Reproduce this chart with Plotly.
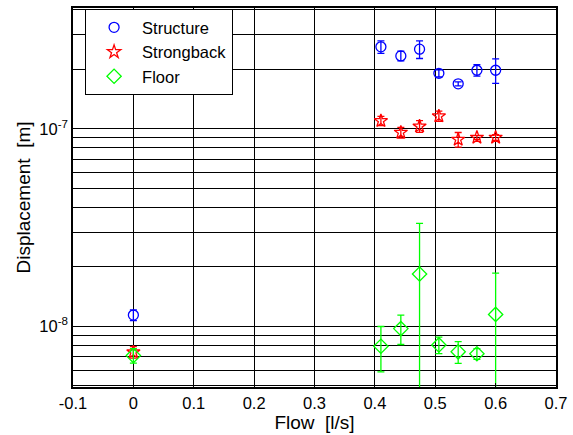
import plotly.graph_objects as go
import numpy as np

flow = [0, 0.41, 0.443, 0.474, 0.506, 0.538, 0.569, 0.6]

structure = [1.14e-8, 2.6e-7, 2.34e-7, 2.53e-7, 1.91e-7, 1.69e-7, 1.98e-7, 1.98e-7]
structure_err = [7e-10, 1.9e-8, 1.3e-8, 2.6e-8, 8e-9, 4e-9, 1.3e-8, 2.8e-8]

strongback = [7.40e-9, 1.097e-7, 9.58e-8, 1.03e-7, 1.16e-7, 8.83e-8, 9.04e-8, 9.04e-8]
strongback_err = [5e-10, 6e-9, 6e-9, 7e-9, 7e-9, 7.5e-9, 2e-9, 3e-9]

floor = [7.11e-9, 7.93e-9, 9.74e-9, 1.84e-8, 8.05e-9, 7.43e-9, 7.26e-9, 1.149e-8]
floor_err = [6e-10, 2.05e-9, 1.65e-9, 1.48e-8, 7.7e-10, 9.3e-10, 4.5e-10, 7.1e-9]

x_ticks = [-0.1, 0, 0.1, 0.2, 0.3, 0.4, 0.5, 0.6, 0.7]
x_ticklabels = ["-0.1", "0", "0.1", "0.2", "0.3", "0.4", "0.5", "0.6", "0.7"]

y_ticks = []
y_ticklabels = []
for e in [-9, -8, -7]:
    for m in range(1, 10):
        v = m * 10.0 ** e
        if 4.9e-9 <= v <= 4.1e-7:
            y_ticks.append(v)
            y_ticklabels.append(f"10<sup>{e}</sup>" if m == 1 else "")

FONT = "Liberation Sans, Arial, sans-serif"

fig = go.Figure()

series = [
    ("Structure", structure, structure_err, "circle-open", "#0000ff", 10),
    ("Strongback", strongback, strongback_err, "star-open", "#ff0000", 10),
    ("Floor", floor, floor_err, "diamond-open", "#00ff00", 11),
]
for name, vals, errs, sym, col, sz in series:
    fig.add_trace(go.Scatter(
        x=flow, y=vals, mode="markers", name=name,
        marker=dict(symbol=sym, size=sz, color=col, line=dict(width=1.3, color=col)),
        error_y=dict(type="data", array=errs, symmetric=True, color=col,
                     thickness=1.3, width=3.5),
    ))

axis_common = dict(
    showline=True, linecolor="black", linewidth=1.5, mirror="allticks",
    ticks="inside", ticklen=4, tickcolor="black",
    showgrid=True, gridcolor="black", gridwidth=1,
    zeroline=False,
    tickfont=dict(family=FONT, size=16.5, color="black"),
)

fig.update_layout(
    width=573, height=435,
    margin=dict(l=73, r=16, t=6, b=48),
    paper_bgcolor="white", plot_bgcolor="white",
    font=dict(family=FONT, color="black"),
    xaxis=dict(range=[-0.1, 0.7], tickvals=x_ticks, ticktext=x_ticklabels,
               title=dict(text="Flow\u00a0\u00a0[l/s]", font=dict(family=FONT, size=19), standoff=2),
               **axis_common),
    yaxis=dict(type="log", range=[np.log10(4.93e-9), np.log10(4.09e-7)],
               tickvals=y_ticks, ticktext=y_ticklabels,
               title=dict(text="Displacement\u00a0\u00a0[m]", font=dict(family=FONT, size=19), standoff=4),
               **axis_common),
    legend=dict(x=0.025, y=0.997, xanchor="left", yanchor="top",
                bgcolor="white", bordercolor="black", borderwidth=1,
                font=dict(family=FONT, size=16.5, color="black"),
                itemwidth=46, tracegroupgap=0),
    showlegend=True,
)

fig.write_html("out.html", post_script="document.body.style.margin='0px';",
               config={"displayModeBar": False})
